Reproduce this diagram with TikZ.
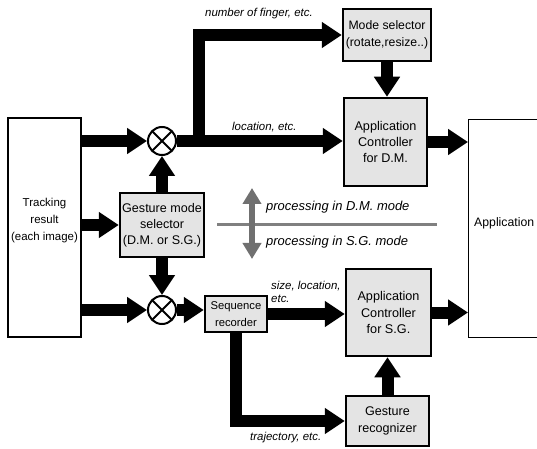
\documentclass[tikz,border=0pt]{standalone}
\usepackage{fontspec}
\setmainfont{Liberation Sans}
\usetikzlibrary{arrows.meta,backgrounds}
\definecolor{boxfill}{RGB}{228,228,228}
\definecolor{midgray}{RGB}{112,112,112}
\definecolor{linegray}{RGB}{128,128,128}
\begin{document}
\begin{tikzpicture}[x=1bp,y=-1bp,
  gbox/.style={draw, line width=2.5bp, fill=boxfill, inner sep=0pt, align=center},
  wbox/.style={draw, line width=1.2bp, fill=white, inner sep=0pt},
  fat/.style={line width=12bp, -{Triangle[width=25bp,length=20bp]}, line join=miter},
  graydbl/.style={line width=6bp, midgray, {Triangle[width=18bp,length=16bp]}-{Triangle[width=18bp,length=16bp]}},
  mixer/.style={circle, draw, line width=2bp, fill=white, minimum size=28bp, inner sep=0pt,
    path picture={\draw[line width=2bp] (path picture bounding box.north west) -- (path picture bounding box.south east)
      (path picture bounding box.north east) -- (path picture bounding box.south west);}},
  lbl/.style={font=\fontsize{11.5}{13}\selectfont\itshape, inner sep=0pt, anchor=west, align=left},
  plbl/.style={font=\fontsize{13}{15}\selectfont\itshape, inner sep=0pt, anchor=west}]
\useasboundingbox (0,0) rectangle (537,449);

% boxes
\node[wbox, minimum width=73bp, minimum height=219bp] (track) at (44.5,227.5) {};
\node[align=center, font=\fontsize{11.5}{17.5}\selectfont, inner sep=0pt] (tracktxt) at (44.5,220.5) {Tracking\\result\\(each image)};
\node[wbox, minimum width=80bp, minimum height=218bp, anchor=north west] (app) at (468,119) {};
\node[font=\fontsize{12.3}{15}\selectfont, inner sep=0pt, anchor=west] (apptxt) at (474,223) {Application};

\node[gbox, minimum width=88bp, minimum height=52bp, font=\fontsize{12.3}{17}\selectfont] (modesel) at (387,35) {Mode selector\\(rotate,resize..)};
\node[gbox, minimum width=83bp, minimum height=88bp, font=\fontsize{12.7}{16.5}\selectfont] (acdm) at (385.5,142) {Application\\Controller\\for D.M.};
\node[gbox, minimum width=84bp, minimum height=64bp, font=\fontsize{12.6}{16}\selectfont] (gms) at (162,225) {Gesture mode\\selector\\(D.M. or S.G.)};
\node[gbox, minimum width=62bp, minimum height=36bp, font=\fontsize{11.3}{17}\selectfont] (seq) at (236,314) {Sequence\\recorder};
\node[gbox, minimum width=85bp, minimum height=87bp, font=\fontsize{12.7}{17}\selectfont] (acsg) at (388.5,312.5) {Application\\Controller\\for S.G.};
\node[gbox, minimum width=83bp, minimum height=50bp, font=\fontsize{12.6}{17}\selectfont] (grec) at (387.5,421) {Gesture\\recognizer};

\node[mixer] (c1) at (162,141) {};
\node[mixer] (c2) at (162,310) {};

\coordinate (br) at (199,141);

\begin{scope}[on background layer]
\draw[fat] (track.east |- c1) -- (c1.west);
\draw[fat] (track.east |- gms) -- (gms.west);
\draw[fat] (track.east |- c2) -- (c2.west);
\draw[fat] (gms.north) -- (c1.south);
\draw[fat] (gms.south) -- (c2.north);
\draw[fat] (c1.east) -- (c1 -| acdm.west);
\draw[fat] (br) |- (modesel.west);
\draw[fat] (modesel.south) -- (modesel.south |- acdm.north);
\draw[fat] (acdm.east) -- (acdm.east -| app.west);
\draw[fat] (c2.east) -- (c2 -| seq.west);
\draw[fat] (seq.east) -- (seq.east -| acsg.west);
\draw[fat] (seq.south) |- (grec.west);
\draw[fat] (grec.north) -- (grec.north |- acsg.south);
\draw[fat] (acsg.east) -- (acsg.east -| app.west);
\end{scope}

% mode divider
\coordinate (sl) at (217,225);
\coordinate (sr) at (437,225);
\draw[line width=3bp, linegray] (sl) -- (sr);
\coordinate (pu) at (252,188);
\coordinate (pd) at (252,259);
\draw[graydbl] (pu) -- (pd);

% labels
\node[lbl] (l1) at (205,14) {number of finger, etc.};
\node[lbl] (l2) at (232,127) {location, etc.};
\node[lbl] (l3) at (271,291.5) {size, location,\\etc.};
\node[lbl] (l4) at (250,438) {trajectory, etc.};
\node[plbl] (p1) at (266,207) {processing in D.M. mode};
\node[plbl] (p2) at (266,242) {processing in S.G. mode};
\end{tikzpicture}
\end{document}
